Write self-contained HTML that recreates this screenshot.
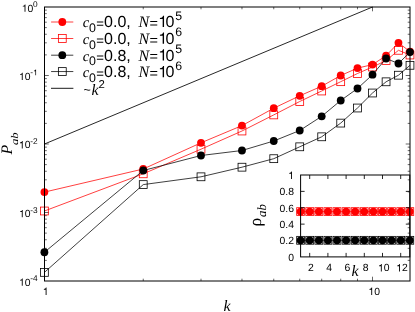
<!DOCTYPE html>
<html><head><meta charset="utf-8"><style>
html,body{margin:0;padding:0;background:#fff;}
svg{display:block;will-change:transform;}
text{fill:#000;text-rendering:geometricPrecision;}
</style></head><body>
<svg width="415" height="312" viewBox="0 0 415 312">
<rect width="415" height="312" fill="#fff"/>
<line x1="44.50" y1="54.88" x2="46.80" y2="54.88" stroke="#000000" stroke-width="0.6"/>
<line x1="410.00" y1="54.88" x2="407.70" y2="54.88" stroke="#000000" stroke-width="0.6"/>
<line x1="44.50" y1="42.82" x2="46.80" y2="42.82" stroke="#000000" stroke-width="0.6"/>
<line x1="410.00" y1="42.82" x2="407.70" y2="42.82" stroke="#000000" stroke-width="0.6"/>
<line x1="44.50" y1="34.26" x2="46.80" y2="34.26" stroke="#000000" stroke-width="0.6"/>
<line x1="410.00" y1="34.26" x2="407.70" y2="34.26" stroke="#000000" stroke-width="0.6"/>
<line x1="44.50" y1="27.62" x2="46.80" y2="27.62" stroke="#000000" stroke-width="0.6"/>
<line x1="410.00" y1="27.62" x2="407.70" y2="27.62" stroke="#000000" stroke-width="0.6"/>
<line x1="44.50" y1="22.20" x2="46.80" y2="22.20" stroke="#000000" stroke-width="0.6"/>
<line x1="410.00" y1="22.20" x2="407.70" y2="22.20" stroke="#000000" stroke-width="0.6"/>
<line x1="44.50" y1="17.61" x2="46.80" y2="17.61" stroke="#000000" stroke-width="0.6"/>
<line x1="410.00" y1="17.61" x2="407.70" y2="17.61" stroke="#000000" stroke-width="0.6"/>
<line x1="44.50" y1="13.64" x2="46.80" y2="13.64" stroke="#000000" stroke-width="0.6"/>
<line x1="410.00" y1="13.64" x2="407.70" y2="13.64" stroke="#000000" stroke-width="0.6"/>
<line x1="44.50" y1="10.13" x2="46.80" y2="10.13" stroke="#000000" stroke-width="0.6"/>
<line x1="410.00" y1="10.13" x2="407.70" y2="10.13" stroke="#000000" stroke-width="0.6"/>
<line x1="44.50" y1="75.50" x2="48.80" y2="75.50" stroke="#000000" stroke-width="0.6"/>
<line x1="410.00" y1="75.50" x2="405.70" y2="75.50" stroke="#000000" stroke-width="0.6"/>
<line x1="44.50" y1="123.38" x2="46.80" y2="123.38" stroke="#000000" stroke-width="0.6"/>
<line x1="410.00" y1="123.38" x2="407.70" y2="123.38" stroke="#000000" stroke-width="0.6"/>
<line x1="44.50" y1="111.32" x2="46.80" y2="111.32" stroke="#000000" stroke-width="0.6"/>
<line x1="410.00" y1="111.32" x2="407.70" y2="111.32" stroke="#000000" stroke-width="0.6"/>
<line x1="44.50" y1="102.76" x2="46.80" y2="102.76" stroke="#000000" stroke-width="0.6"/>
<line x1="410.00" y1="102.76" x2="407.70" y2="102.76" stroke="#000000" stroke-width="0.6"/>
<line x1="44.50" y1="96.12" x2="46.80" y2="96.12" stroke="#000000" stroke-width="0.6"/>
<line x1="410.00" y1="96.12" x2="407.70" y2="96.12" stroke="#000000" stroke-width="0.6"/>
<line x1="44.50" y1="90.70" x2="46.80" y2="90.70" stroke="#000000" stroke-width="0.6"/>
<line x1="410.00" y1="90.70" x2="407.70" y2="90.70" stroke="#000000" stroke-width="0.6"/>
<line x1="44.50" y1="86.11" x2="46.80" y2="86.11" stroke="#000000" stroke-width="0.6"/>
<line x1="410.00" y1="86.11" x2="407.70" y2="86.11" stroke="#000000" stroke-width="0.6"/>
<line x1="44.50" y1="82.14" x2="46.80" y2="82.14" stroke="#000000" stroke-width="0.6"/>
<line x1="410.00" y1="82.14" x2="407.70" y2="82.14" stroke="#000000" stroke-width="0.6"/>
<line x1="44.50" y1="78.63" x2="46.80" y2="78.63" stroke="#000000" stroke-width="0.6"/>
<line x1="410.00" y1="78.63" x2="407.70" y2="78.63" stroke="#000000" stroke-width="0.6"/>
<line x1="44.50" y1="144.00" x2="48.80" y2="144.00" stroke="#000000" stroke-width="0.6"/>
<line x1="410.00" y1="144.00" x2="405.70" y2="144.00" stroke="#000000" stroke-width="0.6"/>
<line x1="44.50" y1="191.88" x2="46.80" y2="191.88" stroke="#000000" stroke-width="0.6"/>
<line x1="410.00" y1="191.88" x2="407.70" y2="191.88" stroke="#000000" stroke-width="0.6"/>
<line x1="44.50" y1="179.82" x2="46.80" y2="179.82" stroke="#000000" stroke-width="0.6"/>
<line x1="410.00" y1="179.82" x2="407.70" y2="179.82" stroke="#000000" stroke-width="0.6"/>
<line x1="44.50" y1="171.26" x2="46.80" y2="171.26" stroke="#000000" stroke-width="0.6"/>
<line x1="410.00" y1="171.26" x2="407.70" y2="171.26" stroke="#000000" stroke-width="0.6"/>
<line x1="44.50" y1="164.62" x2="46.80" y2="164.62" stroke="#000000" stroke-width="0.6"/>
<line x1="410.00" y1="164.62" x2="407.70" y2="164.62" stroke="#000000" stroke-width="0.6"/>
<line x1="44.50" y1="159.20" x2="46.80" y2="159.20" stroke="#000000" stroke-width="0.6"/>
<line x1="410.00" y1="159.20" x2="407.70" y2="159.20" stroke="#000000" stroke-width="0.6"/>
<line x1="44.50" y1="154.61" x2="46.80" y2="154.61" stroke="#000000" stroke-width="0.6"/>
<line x1="410.00" y1="154.61" x2="407.70" y2="154.61" stroke="#000000" stroke-width="0.6"/>
<line x1="44.50" y1="150.64" x2="46.80" y2="150.64" stroke="#000000" stroke-width="0.6"/>
<line x1="410.00" y1="150.64" x2="407.70" y2="150.64" stroke="#000000" stroke-width="0.6"/>
<line x1="44.50" y1="147.13" x2="46.80" y2="147.13" stroke="#000000" stroke-width="0.6"/>
<line x1="410.00" y1="147.13" x2="407.70" y2="147.13" stroke="#000000" stroke-width="0.6"/>
<line x1="44.50" y1="212.50" x2="48.80" y2="212.50" stroke="#000000" stroke-width="0.6"/>
<line x1="410.00" y1="212.50" x2="405.70" y2="212.50" stroke="#000000" stroke-width="0.6"/>
<line x1="44.50" y1="260.38" x2="46.80" y2="260.38" stroke="#000000" stroke-width="0.6"/>
<line x1="410.00" y1="260.38" x2="407.70" y2="260.38" stroke="#000000" stroke-width="0.6"/>
<line x1="44.50" y1="248.32" x2="46.80" y2="248.32" stroke="#000000" stroke-width="0.6"/>
<line x1="410.00" y1="248.32" x2="407.70" y2="248.32" stroke="#000000" stroke-width="0.6"/>
<line x1="44.50" y1="239.76" x2="46.80" y2="239.76" stroke="#000000" stroke-width="0.6"/>
<line x1="410.00" y1="239.76" x2="407.70" y2="239.76" stroke="#000000" stroke-width="0.6"/>
<line x1="44.50" y1="233.12" x2="46.80" y2="233.12" stroke="#000000" stroke-width="0.6"/>
<line x1="410.00" y1="233.12" x2="407.70" y2="233.12" stroke="#000000" stroke-width="0.6"/>
<line x1="44.50" y1="227.70" x2="46.80" y2="227.70" stroke="#000000" stroke-width="0.6"/>
<line x1="410.00" y1="227.70" x2="407.70" y2="227.70" stroke="#000000" stroke-width="0.6"/>
<line x1="44.50" y1="223.11" x2="46.80" y2="223.11" stroke="#000000" stroke-width="0.6"/>
<line x1="410.00" y1="223.11" x2="407.70" y2="223.11" stroke="#000000" stroke-width="0.6"/>
<line x1="44.50" y1="219.14" x2="46.80" y2="219.14" stroke="#000000" stroke-width="0.6"/>
<line x1="410.00" y1="219.14" x2="407.70" y2="219.14" stroke="#000000" stroke-width="0.6"/>
<line x1="44.50" y1="215.63" x2="46.80" y2="215.63" stroke="#000000" stroke-width="0.6"/>
<line x1="410.00" y1="215.63" x2="407.70" y2="215.63" stroke="#000000" stroke-width="0.6"/>
<line x1="143.24" y1="281.00" x2="143.24" y2="278.70" stroke="#000000" stroke-width="0.6"/>
<line x1="143.24" y1="7.00" x2="143.24" y2="9.30" stroke="#000000" stroke-width="0.6"/>
<line x1="201.00" y1="281.00" x2="201.00" y2="278.70" stroke="#000000" stroke-width="0.6"/>
<line x1="201.00" y1="7.00" x2="201.00" y2="9.30" stroke="#000000" stroke-width="0.6"/>
<line x1="241.98" y1="281.00" x2="241.98" y2="278.70" stroke="#000000" stroke-width="0.6"/>
<line x1="241.98" y1="7.00" x2="241.98" y2="9.30" stroke="#000000" stroke-width="0.6"/>
<line x1="273.76" y1="281.00" x2="273.76" y2="278.70" stroke="#000000" stroke-width="0.6"/>
<line x1="273.76" y1="7.00" x2="273.76" y2="9.30" stroke="#000000" stroke-width="0.6"/>
<line x1="299.73" y1="281.00" x2="299.73" y2="278.70" stroke="#000000" stroke-width="0.6"/>
<line x1="299.73" y1="7.00" x2="299.73" y2="9.30" stroke="#000000" stroke-width="0.6"/>
<line x1="321.69" y1="281.00" x2="321.69" y2="278.70" stroke="#000000" stroke-width="0.6"/>
<line x1="321.69" y1="7.00" x2="321.69" y2="9.30" stroke="#000000" stroke-width="0.6"/>
<line x1="340.71" y1="281.00" x2="340.71" y2="278.70" stroke="#000000" stroke-width="0.6"/>
<line x1="340.71" y1="7.00" x2="340.71" y2="9.30" stroke="#000000" stroke-width="0.6"/>
<line x1="357.49" y1="281.00" x2="357.49" y2="278.70" stroke="#000000" stroke-width="0.6"/>
<line x1="357.49" y1="7.00" x2="357.49" y2="9.30" stroke="#000000" stroke-width="0.6"/>
<line x1="372.50" y1="281.00" x2="372.50" y2="276.70" stroke="#000000" stroke-width="0.6"/>
<line x1="372.50" y1="7.00" x2="372.50" y2="11.30" stroke="#000000" stroke-width="0.6"/>
<polyline points="44.50,144.00 372.50,7.00" fill="none" stroke="#000000" stroke-width="0.85"/>
<polyline points="44.40,192.10 143.24,169.00 201.00,142.80 241.98,125.60 273.76,108.20 299.73,95.80 321.69,86.20 340.71,75.50 357.49,68.10 372.50,64.60 386.08,55.70 398.47,42.80 410.00,51.60" fill="none" stroke="#ff0000" stroke-width="0.75"/>
<circle cx="44.40" cy="192.10" r="3.9" fill="#ff0000"/>
<circle cx="143.24" cy="169.00" r="3.9" fill="#ff0000"/>
<circle cx="201.00" cy="142.80" r="3.9" fill="#ff0000"/>
<circle cx="241.98" cy="125.60" r="3.9" fill="#ff0000"/>
<circle cx="273.76" cy="108.20" r="3.9" fill="#ff0000"/>
<circle cx="299.73" cy="95.80" r="3.9" fill="#ff0000"/>
<circle cx="321.69" cy="86.20" r="3.9" fill="#ff0000"/>
<circle cx="340.71" cy="75.50" r="3.9" fill="#ff0000"/>
<circle cx="357.49" cy="68.10" r="3.9" fill="#ff0000"/>
<circle cx="372.50" cy="64.60" r="3.9" fill="#ff0000"/>
<circle cx="386.08" cy="55.70" r="3.9" fill="#ff0000"/>
<circle cx="398.47" cy="42.80" r="3.9" fill="#ff0000"/>
<circle cx="410.00" cy="51.60" r="3.9" fill="#ff0000"/>
<polyline points="44.40,211.00 143.24,173.80 201.00,149.20 241.98,131.00 273.76,114.90 299.73,101.50 321.69,91.00 340.71,81.70 357.49,73.50 372.50,67.00 386.08,60.60 398.47,50.30 410.00,55.00" fill="none" stroke="#ff0000" stroke-width="0.75"/>
<rect x="40.48" y="207.07" width="7.85" height="7.85" fill="none" stroke="#ff0000" stroke-width="0.8"/>
<rect x="139.31" y="169.88" width="7.85" height="7.85" fill="none" stroke="#ff0000" stroke-width="0.8"/>
<rect x="197.07" y="145.27" width="7.85" height="7.85" fill="none" stroke="#ff0000" stroke-width="0.8"/>
<rect x="238.05" y="127.08" width="7.85" height="7.85" fill="none" stroke="#ff0000" stroke-width="0.8"/>
<rect x="269.84" y="110.98" width="7.85" height="7.85" fill="none" stroke="#ff0000" stroke-width="0.8"/>
<rect x="295.81" y="97.58" width="7.85" height="7.85" fill="none" stroke="#ff0000" stroke-width="0.8"/>
<rect x="317.77" y="87.08" width="7.85" height="7.85" fill="none" stroke="#ff0000" stroke-width="0.8"/>
<rect x="336.79" y="77.78" width="7.85" height="7.85" fill="none" stroke="#ff0000" stroke-width="0.8"/>
<rect x="353.57" y="69.58" width="7.85" height="7.85" fill="none" stroke="#ff0000" stroke-width="0.8"/>
<rect x="368.57" y="63.08" width="7.85" height="7.85" fill="none" stroke="#ff0000" stroke-width="0.8"/>
<rect x="382.15" y="56.68" width="7.85" height="7.85" fill="none" stroke="#ff0000" stroke-width="0.8"/>
<rect x="394.55" y="46.38" width="7.85" height="7.85" fill="none" stroke="#ff0000" stroke-width="0.8"/>
<rect x="406.07" y="51.08" width="7.85" height="7.85" fill="none" stroke="#ff0000" stroke-width="0.8"/>
<polyline points="44.40,252.25 143.24,170.50 201.00,155.50 241.98,150.50 273.76,141.00 299.73,130.50 321.69,116.30 340.71,100.50 357.49,88.50 372.50,74.70 386.08,58.50 398.47,63.50 410.00,52.10" fill="none" stroke="#000000" stroke-width="0.75"/>
<circle cx="44.40" cy="252.25" r="3.9" fill="#000000"/>
<circle cx="143.24" cy="170.50" r="3.9" fill="#000000"/>
<circle cx="201.00" cy="155.50" r="3.9" fill="#000000"/>
<circle cx="241.98" cy="150.50" r="3.9" fill="#000000"/>
<circle cx="273.76" cy="141.00" r="3.9" fill="#000000"/>
<circle cx="299.73" cy="130.50" r="3.9" fill="#000000"/>
<circle cx="321.69" cy="116.30" r="3.9" fill="#000000"/>
<circle cx="340.71" cy="100.50" r="3.9" fill="#000000"/>
<circle cx="357.49" cy="88.50" r="3.9" fill="#000000"/>
<circle cx="372.50" cy="74.70" r="3.9" fill="#000000"/>
<circle cx="386.08" cy="58.50" r="3.9" fill="#000000"/>
<circle cx="398.47" cy="63.50" r="3.9" fill="#000000"/>
<circle cx="410.00" cy="52.10" r="3.9" fill="#000000"/>
<polyline points="44.40,272.40 143.24,184.60 201.00,176.80 241.98,167.20 273.76,158.70 299.73,146.80 321.69,136.80 340.71,123.10 357.49,108.00 372.50,93.00 386.08,81.80 398.47,75.20 410.00,65.30" fill="none" stroke="#000000" stroke-width="0.75"/>
<rect x="40.48" y="268.47" width="7.85" height="7.85" fill="none" stroke="#000000" stroke-width="0.8"/>
<rect x="139.31" y="180.67" width="7.85" height="7.85" fill="none" stroke="#000000" stroke-width="0.8"/>
<rect x="197.07" y="172.88" width="7.85" height="7.85" fill="none" stroke="#000000" stroke-width="0.8"/>
<rect x="238.05" y="163.27" width="7.85" height="7.85" fill="none" stroke="#000000" stroke-width="0.8"/>
<rect x="269.84" y="154.77" width="7.85" height="7.85" fill="none" stroke="#000000" stroke-width="0.8"/>
<rect x="295.81" y="142.88" width="7.85" height="7.85" fill="none" stroke="#000000" stroke-width="0.8"/>
<rect x="317.77" y="132.88" width="7.85" height="7.85" fill="none" stroke="#000000" stroke-width="0.8"/>
<rect x="336.79" y="119.17" width="7.85" height="7.85" fill="none" stroke="#000000" stroke-width="0.8"/>
<rect x="353.57" y="104.08" width="7.85" height="7.85" fill="none" stroke="#000000" stroke-width="0.8"/>
<rect x="368.57" y="89.08" width="7.85" height="7.85" fill="none" stroke="#000000" stroke-width="0.8"/>
<rect x="382.15" y="77.88" width="7.85" height="7.85" fill="none" stroke="#000000" stroke-width="0.8"/>
<rect x="394.55" y="71.28" width="7.85" height="7.85" fill="none" stroke="#000000" stroke-width="0.8"/>
<rect x="406.07" y="61.38" width="7.85" height="7.85" fill="none" stroke="#000000" stroke-width="0.8"/>
<rect x="44.5" y="7.0" width="365.5" height="274.0" fill="none" stroke="#000000" stroke-width="1.0"/>
<text x="33.09" y="7.00" text-anchor="start" style="font-family:'Liberation Sans',sans-serif;font-size:8.3px;" >0</text>
<path d="M359 0L273 0L273 -501L101 -501L101 -560C215 -572 268 -600 298 -703L359 -703Z" transform="translate(21.72,11.70) scale(0.01040)" fill="#000"/>
<text x="27.50" y="11.70" text-anchor="start" style="font-family:'Liberation Sans',sans-serif;font-size:10.4px;" >0</text>
<text x="30.32" y="75.30" text-anchor="start" style="font-family:'Liberation Sans',sans-serif;font-size:8.3px;" >-</text>
<path d="M359 0L273 0L273 -501L101 -501L101 -560C215 -572 268 -600 298 -703L359 -703Z" transform="translate(33.09,75.30) scale(0.00830)" fill="#000"/>
<path d="M359 0L273 0L273 -501L101 -501L101 -560C215 -572 268 -600 298 -703L359 -703Z" transform="translate(18.96,80.00) scale(0.01040)" fill="#000"/>
<text x="24.74" y="80.00" text-anchor="start" style="font-family:'Liberation Sans',sans-serif;font-size:10.4px;" >0</text>
<text x="30.32" y="143.70" text-anchor="start" style="font-family:'Liberation Sans',sans-serif;font-size:8.3px;" >-2</text>
<path d="M359 0L273 0L273 -501L101 -501L101 -560C215 -572 268 -600 298 -703L359 -703Z" transform="translate(18.96,148.40) scale(0.01040)" fill="#000"/>
<text x="24.74" y="148.40" text-anchor="start" style="font-family:'Liberation Sans',sans-serif;font-size:10.4px;" >0</text>
<text x="30.32" y="212.50" text-anchor="start" style="font-family:'Liberation Sans',sans-serif;font-size:8.3px;" >-3</text>
<path d="M359 0L273 0L273 -501L101 -501L101 -560C215 -572 268 -600 298 -703L359 -703Z" transform="translate(18.96,217.20) scale(0.01040)" fill="#000"/>
<text x="24.74" y="217.20" text-anchor="start" style="font-family:'Liberation Sans',sans-serif;font-size:10.4px;" >0</text>
<text x="30.32" y="281.10" text-anchor="start" style="font-family:'Liberation Sans',sans-serif;font-size:8.3px;" >-4</text>
<path d="M359 0L273 0L273 -501L101 -501L101 -560C215 -572 268 -600 298 -703L359 -703Z" transform="translate(18.96,285.80) scale(0.01040)" fill="#000"/>
<text x="24.74" y="285.80" text-anchor="start" style="font-family:'Liberation Sans',sans-serif;font-size:10.4px;" >0</text>
<path d="M359 0L273 0L273 -501L101 -501L101 -560C215 -572 268 -600 298 -703L359 -703Z" transform="translate(42.81,294.90) scale(0.01040)" fill="#000"/>
<path d="M359 0L273 0L273 -501L101 -501L101 -560C215 -572 268 -600 298 -703L359 -703Z" transform="translate(368.42,294.90) scale(0.01040)" fill="#000"/>
<text x="374.20" y="294.90" text-anchor="start" style="font-family:'Liberation Sans',sans-serif;font-size:10.4px;" >0</text>
<text x="223.50" y="311.00" text-anchor="start" style="font-family:'Liberation Serif',sans-serif;font-size:16px;font-style:italic;" >k</text>
<g transform="translate(12.1,154.6) rotate(-90)">
<text x="0.00" y="0.00" text-anchor="start" style="font-family:'Liberation Serif',sans-serif;font-size:16px;font-style:italic;" >P</text>
<text x="0.00" y="0.00" text-anchor="start" style="font-family:'Liberation Serif',sans-serif;font-size:10.2px;font-style:italic;" transform="translate(9.5,5.4) scale(1.25,1)">ab</text>
</g>
<line x1="51.10" y1="22.00" x2="73.30" y2="22.00" stroke="#ff0000" stroke-width="0.75"/>
<circle cx="62.30" cy="22.00" r="3.9" fill="#ff0000"/>
<text x="82.80" y="26.90" text-anchor="start" style="font-family:'Liberation Serif',sans-serif;font-size:14.5px;font-style:italic;" >c</text>
<text x="89.00" y="31.70" text-anchor="start" style="font-family:'Liberation Sans',sans-serif;font-size:12.4px;" >0</text>
<text x="96.30" y="27.90" text-anchor="start" style="font-family:'Liberation Sans',sans-serif;font-size:13.2px;" >=</text>
<text x="104.10" y="26.90" text-anchor="start" style="font-family:'Liberation Sans',sans-serif;font-size:16px;" >0.0,</text>
<text x="138.60" y="26.90" text-anchor="start" style="font-family:'Liberation Serif',sans-serif;font-size:16px;font-style:italic;" >N</text>
<text x="149.50" y="27.70" text-anchor="start" style="font-family:'Liberation Sans',sans-serif;font-size:14.5px;" >=</text>
<path d="M359 0L273 0L273 -501L101 -501L101 -560C215 -572 268 -600 298 -703L359 -703Z" transform="translate(158.30,26.90) scale(0.01600)" fill="#000"/>
<text x="165.40" y="26.90" text-anchor="start" style="font-family:'Liberation Sans',sans-serif;font-size:16px;" >0</text>
<text x="175.30" y="19.50" text-anchor="start" style="font-family:'Liberation Sans',sans-serif;font-size:12.3px;" >5</text>
<line x1="51.10" y1="38.50" x2="73.30" y2="38.50" stroke="#ff0000" stroke-width="0.75"/>
<rect x="58.38" y="34.58" width="7.85" height="7.85" fill="none" stroke="#ff0000" stroke-width="0.8"/>
<text x="82.80" y="43.70" text-anchor="start" style="font-family:'Liberation Serif',sans-serif;font-size:14.5px;font-style:italic;" >c</text>
<text x="89.00" y="48.50" text-anchor="start" style="font-family:'Liberation Sans',sans-serif;font-size:12.4px;" >0</text>
<text x="96.30" y="44.70" text-anchor="start" style="font-family:'Liberation Sans',sans-serif;font-size:13.2px;" >=</text>
<text x="104.10" y="43.70" text-anchor="start" style="font-family:'Liberation Sans',sans-serif;font-size:16px;" >0.0,</text>
<text x="138.60" y="43.70" text-anchor="start" style="font-family:'Liberation Serif',sans-serif;font-size:16px;font-style:italic;" >N</text>
<text x="149.50" y="44.50" text-anchor="start" style="font-family:'Liberation Sans',sans-serif;font-size:14.5px;" >=</text>
<path d="M359 0L273 0L273 -501L101 -501L101 -560C215 -572 268 -600 298 -703L359 -703Z" transform="translate(158.30,43.70) scale(0.01600)" fill="#000"/>
<text x="165.40" y="43.70" text-anchor="start" style="font-family:'Liberation Sans',sans-serif;font-size:16px;" >0</text>
<text x="175.30" y="36.30" text-anchor="start" style="font-family:'Liberation Sans',sans-serif;font-size:12.3px;" >6</text>
<line x1="51.10" y1="55.20" x2="73.30" y2="55.20" stroke="#000000" stroke-width="0.75"/>
<circle cx="62.30" cy="55.20" r="3.9" fill="#000000"/>
<text x="82.80" y="60.50" text-anchor="start" style="font-family:'Liberation Serif',sans-serif;font-size:14.5px;font-style:italic;" >c</text>
<text x="89.00" y="65.30" text-anchor="start" style="font-family:'Liberation Sans',sans-serif;font-size:12.4px;" >0</text>
<text x="96.30" y="61.50" text-anchor="start" style="font-family:'Liberation Sans',sans-serif;font-size:13.2px;" >=</text>
<text x="104.10" y="60.50" text-anchor="start" style="font-family:'Liberation Sans',sans-serif;font-size:16px;" >0.8,</text>
<text x="138.60" y="60.50" text-anchor="start" style="font-family:'Liberation Serif',sans-serif;font-size:16px;font-style:italic;" >N</text>
<text x="149.50" y="61.30" text-anchor="start" style="font-family:'Liberation Sans',sans-serif;font-size:14.5px;" >=</text>
<path d="M359 0L273 0L273 -501L101 -501L101 -560C215 -572 268 -600 298 -703L359 -703Z" transform="translate(158.30,60.50) scale(0.01600)" fill="#000"/>
<text x="165.40" y="60.50" text-anchor="start" style="font-family:'Liberation Sans',sans-serif;font-size:16px;" >0</text>
<text x="175.30" y="53.10" text-anchor="start" style="font-family:'Liberation Sans',sans-serif;font-size:12.3px;" >5</text>
<line x1="51.10" y1="71.55" x2="73.30" y2="71.55" stroke="#000000" stroke-width="0.75"/>
<rect x="58.38" y="67.62" width="7.85" height="7.85" fill="none" stroke="#000000" stroke-width="0.8"/>
<text x="82.80" y="77.30" text-anchor="start" style="font-family:'Liberation Serif',sans-serif;font-size:14.5px;font-style:italic;" >c</text>
<text x="89.00" y="82.10" text-anchor="start" style="font-family:'Liberation Sans',sans-serif;font-size:12.4px;" >0</text>
<text x="96.30" y="78.30" text-anchor="start" style="font-family:'Liberation Sans',sans-serif;font-size:13.2px;" >=</text>
<text x="104.10" y="77.30" text-anchor="start" style="font-family:'Liberation Sans',sans-serif;font-size:16px;" >0.8,</text>
<text x="138.60" y="77.30" text-anchor="start" style="font-family:'Liberation Serif',sans-serif;font-size:16px;font-style:italic;" >N</text>
<text x="149.50" y="78.10" text-anchor="start" style="font-family:'Liberation Sans',sans-serif;font-size:14.5px;" >=</text>
<path d="M359 0L273 0L273 -501L101 -501L101 -560C215 -572 268 -600 298 -703L359 -703Z" transform="translate(158.30,77.30) scale(0.01600)" fill="#000"/>
<text x="165.40" y="77.30" text-anchor="start" style="font-family:'Liberation Sans',sans-serif;font-size:16px;" >0</text>
<text x="175.30" y="69.90" text-anchor="start" style="font-family:'Liberation Sans',sans-serif;font-size:12.3px;" >6</text>
<line x1="51.00" y1="88.30" x2="73.40" y2="88.30" stroke="#000000" stroke-width="0.9"/>
<text x="83.40" y="93.90" text-anchor="start" style="font-family:'Liberation Sans',sans-serif;font-size:12.5px;" >~</text>
<text x="91.40" y="94.70" text-anchor="start" style="font-family:'Liberation Serif',sans-serif;font-size:16px;font-style:italic;" >k</text>
<text x="98.40" y="88.10" text-anchor="start" style="font-family:'Liberation Sans',sans-serif;font-size:11.4px;" >2</text>
<rect x="260.6" y="167.0" width="149.2" height="113.0" fill="#fff" opacity="0"/>
<polyline points="300.60,211.61 409.80,211.61" fill="none" stroke="#ff0000" stroke-width="0.75"/>
<circle cx="300.60" cy="211.61" r="3.9" fill="#ff0000"/>
<circle cx="309.70" cy="211.61" r="3.9" fill="#ff0000"/>
<circle cx="318.80" cy="211.61" r="3.9" fill="#ff0000"/>
<circle cx="327.90" cy="211.61" r="3.9" fill="#ff0000"/>
<circle cx="337.00" cy="211.61" r="3.9" fill="#ff0000"/>
<circle cx="346.10" cy="211.61" r="3.9" fill="#ff0000"/>
<circle cx="355.20" cy="211.61" r="3.9" fill="#ff0000"/>
<circle cx="364.30" cy="211.61" r="3.9" fill="#ff0000"/>
<circle cx="373.40" cy="211.61" r="3.9" fill="#ff0000"/>
<circle cx="382.50" cy="211.61" r="3.9" fill="#ff0000"/>
<circle cx="391.60" cy="211.61" r="3.9" fill="#ff0000"/>
<circle cx="400.70" cy="211.61" r="3.9" fill="#ff0000"/>
<circle cx="409.80" cy="211.61" r="3.9" fill="#ff0000"/>
<rect x="296.68" y="207.68" width="7.85" height="7.85" fill="none" stroke="#ff0000" stroke-width="0.8"/>
<rect x="305.78" y="207.68" width="7.85" height="7.85" fill="none" stroke="#ff0000" stroke-width="0.8"/>
<rect x="314.88" y="207.68" width="7.85" height="7.85" fill="none" stroke="#ff0000" stroke-width="0.8"/>
<rect x="323.98" y="207.68" width="7.85" height="7.85" fill="none" stroke="#ff0000" stroke-width="0.8"/>
<rect x="333.07" y="207.68" width="7.85" height="7.85" fill="none" stroke="#ff0000" stroke-width="0.8"/>
<rect x="342.18" y="207.68" width="7.85" height="7.85" fill="none" stroke="#ff0000" stroke-width="0.8"/>
<rect x="351.28" y="207.68" width="7.85" height="7.85" fill="none" stroke="#ff0000" stroke-width="0.8"/>
<rect x="360.38" y="207.68" width="7.85" height="7.85" fill="none" stroke="#ff0000" stroke-width="0.8"/>
<rect x="369.48" y="207.68" width="7.85" height="7.85" fill="none" stroke="#ff0000" stroke-width="0.8"/>
<rect x="378.57" y="207.68" width="7.85" height="7.85" fill="none" stroke="#ff0000" stroke-width="0.8"/>
<rect x="387.68" y="207.68" width="7.85" height="7.85" fill="none" stroke="#ff0000" stroke-width="0.8"/>
<rect x="396.77" y="207.68" width="7.85" height="7.85" fill="none" stroke="#ff0000" stroke-width="0.8"/>
<rect x="405.88" y="207.68" width="7.85" height="7.85" fill="none" stroke="#ff0000" stroke-width="0.8"/>
<polyline points="300.60,240.30 409.80,240.30" fill="none" stroke="#000000" stroke-width="0.75"/>
<circle cx="300.60" cy="240.30" r="3.9" fill="#000000"/>
<circle cx="309.70" cy="240.30" r="3.9" fill="#000000"/>
<circle cx="318.80" cy="240.30" r="3.9" fill="#000000"/>
<circle cx="327.90" cy="240.30" r="3.9" fill="#000000"/>
<circle cx="337.00" cy="240.30" r="3.9" fill="#000000"/>
<circle cx="346.10" cy="240.30" r="3.9" fill="#000000"/>
<circle cx="355.20" cy="240.30" r="3.9" fill="#000000"/>
<circle cx="364.30" cy="240.30" r="3.9" fill="#000000"/>
<circle cx="373.40" cy="240.30" r="3.9" fill="#000000"/>
<circle cx="382.50" cy="240.30" r="3.9" fill="#000000"/>
<circle cx="391.60" cy="240.30" r="3.9" fill="#000000"/>
<circle cx="400.70" cy="240.30" r="3.9" fill="#000000"/>
<circle cx="409.80" cy="240.30" r="3.9" fill="#000000"/>
<rect x="296.68" y="236.37" width="7.85" height="7.85" fill="none" stroke="#000000" stroke-width="0.8"/>
<rect x="305.78" y="236.37" width="7.85" height="7.85" fill="none" stroke="#000000" stroke-width="0.8"/>
<rect x="314.88" y="236.37" width="7.85" height="7.85" fill="none" stroke="#000000" stroke-width="0.8"/>
<rect x="323.98" y="236.37" width="7.85" height="7.85" fill="none" stroke="#000000" stroke-width="0.8"/>
<rect x="333.07" y="236.37" width="7.85" height="7.85" fill="none" stroke="#000000" stroke-width="0.8"/>
<rect x="342.18" y="236.37" width="7.85" height="7.85" fill="none" stroke="#000000" stroke-width="0.8"/>
<rect x="351.28" y="236.37" width="7.85" height="7.85" fill="none" stroke="#000000" stroke-width="0.8"/>
<rect x="360.38" y="236.37" width="7.85" height="7.85" fill="none" stroke="#000000" stroke-width="0.8"/>
<rect x="369.48" y="236.37" width="7.85" height="7.85" fill="none" stroke="#000000" stroke-width="0.8"/>
<rect x="378.57" y="236.37" width="7.85" height="7.85" fill="none" stroke="#000000" stroke-width="0.8"/>
<rect x="387.68" y="236.37" width="7.85" height="7.85" fill="none" stroke="#000000" stroke-width="0.8"/>
<rect x="396.77" y="236.37" width="7.85" height="7.85" fill="none" stroke="#000000" stroke-width="0.8"/>
<rect x="405.88" y="236.37" width="7.85" height="7.85" fill="none" stroke="#000000" stroke-width="0.8"/>
<line x1="309.70" y1="256.90" x2="309.70" y2="252.90" stroke="#000000" stroke-width="0.85"/>
<line x1="309.70" y1="175.00" x2="309.70" y2="179.00" stroke="#000000" stroke-width="0.85"/>
<text x="308.11" y="271.40" text-anchor="start" style="font-family:'Liberation Sans',sans-serif;font-size:10.4px;" >2</text>
<line x1="327.90" y1="256.90" x2="327.90" y2="252.90" stroke="#000000" stroke-width="0.85"/>
<line x1="327.90" y1="175.00" x2="327.90" y2="179.00" stroke="#000000" stroke-width="0.85"/>
<text x="326.31" y="271.40" text-anchor="start" style="font-family:'Liberation Sans',sans-serif;font-size:10.4px;" >4</text>
<line x1="346.10" y1="256.90" x2="346.10" y2="252.90" stroke="#000000" stroke-width="0.85"/>
<line x1="346.10" y1="175.00" x2="346.10" y2="179.00" stroke="#000000" stroke-width="0.85"/>
<text x="344.51" y="271.40" text-anchor="start" style="font-family:'Liberation Sans',sans-serif;font-size:10.4px;" >6</text>
<line x1="364.30" y1="256.90" x2="364.30" y2="252.90" stroke="#000000" stroke-width="0.85"/>
<line x1="364.30" y1="175.00" x2="364.30" y2="179.00" stroke="#000000" stroke-width="0.85"/>
<text x="362.71" y="271.40" text-anchor="start" style="font-family:'Liberation Sans',sans-serif;font-size:10.4px;" >8</text>
<line x1="382.50" y1="256.90" x2="382.50" y2="252.90" stroke="#000000" stroke-width="0.85"/>
<line x1="382.50" y1="175.00" x2="382.50" y2="179.00" stroke="#000000" stroke-width="0.85"/>
<path d="M359 0L273 0L273 -501L101 -501L101 -560C215 -572 268 -600 298 -703L359 -703Z" transform="translate(378.02,271.40) scale(0.01040)" fill="#000"/>
<text x="383.80" y="271.40" text-anchor="start" style="font-family:'Liberation Sans',sans-serif;font-size:10.4px;" >0</text>
<line x1="400.70" y1="256.90" x2="400.70" y2="252.90" stroke="#000000" stroke-width="0.85"/>
<line x1="400.70" y1="175.00" x2="400.70" y2="179.00" stroke="#000000" stroke-width="0.85"/>
<path d="M359 0L273 0L273 -501L101 -501L101 -560C215 -572 268 -600 298 -703L359 -703Z" transform="translate(396.22,271.40) scale(0.01040)" fill="#000"/>
<text x="402.00" y="271.40" text-anchor="start" style="font-family:'Liberation Sans',sans-serif;font-size:10.4px;" >2</text>
<text x="288.22" y="260.80" text-anchor="start" style="font-family:'Liberation Sans',sans-serif;font-size:10.4px;" >0</text>
<line x1="300.60" y1="240.52" x2="304.60" y2="240.52" stroke="#000000" stroke-width="0.85"/>
<line x1="409.80" y1="240.52" x2="405.80" y2="240.52" stroke="#000000" stroke-width="0.85"/>
<text x="279.54" y="244.42" text-anchor="start" style="font-family:'Liberation Sans',sans-serif;font-size:10.4px;" >0.2</text>
<line x1="300.60" y1="224.14" x2="304.60" y2="224.14" stroke="#000000" stroke-width="0.85"/>
<line x1="409.80" y1="224.14" x2="405.80" y2="224.14" stroke="#000000" stroke-width="0.85"/>
<text x="279.54" y="228.04" text-anchor="start" style="font-family:'Liberation Sans',sans-serif;font-size:10.4px;" >0.4</text>
<line x1="300.60" y1="207.76" x2="304.60" y2="207.76" stroke="#000000" stroke-width="0.85"/>
<line x1="409.80" y1="207.76" x2="405.80" y2="207.76" stroke="#000000" stroke-width="0.85"/>
<text x="279.54" y="211.66" text-anchor="start" style="font-family:'Liberation Sans',sans-serif;font-size:10.4px;" >0.6</text>
<line x1="300.60" y1="191.38" x2="304.60" y2="191.38" stroke="#000000" stroke-width="0.85"/>
<line x1="409.80" y1="191.38" x2="405.80" y2="191.38" stroke="#000000" stroke-width="0.85"/>
<text x="279.54" y="195.28" text-anchor="start" style="font-family:'Liberation Sans',sans-serif;font-size:10.4px;" >0.8</text>
<path d="M359 0L273 0L273 -501L101 -501L101 -560C215 -572 268 -600 298 -703L359 -703Z" transform="translate(288.22,178.90) scale(0.01040)" fill="#000"/>
<rect x="300.6" y="175.0" width="109.19999999999999" height="81.89999999999998" fill="none" stroke="#000000" stroke-width="1.0"/>
<text x="351.40" y="276.20" text-anchor="start" style="font-family:'Liberation Serif',sans-serif;font-size:16px;font-style:italic;" >k</text>
<g transform="translate(260.6,226.6) rotate(-90)">
<text x="0.00" y="0.00" text-anchor="start" style="font-family:'Liberation Serif',sans-serif;font-size:17.5px;" >ρ</text>
<text x="9.60" y="5.60" text-anchor="start" style="font-family:'Liberation Serif',sans-serif;font-size:12.8px;font-style:italic;" >ab</text>
</g>
</svg>
</body></html>
